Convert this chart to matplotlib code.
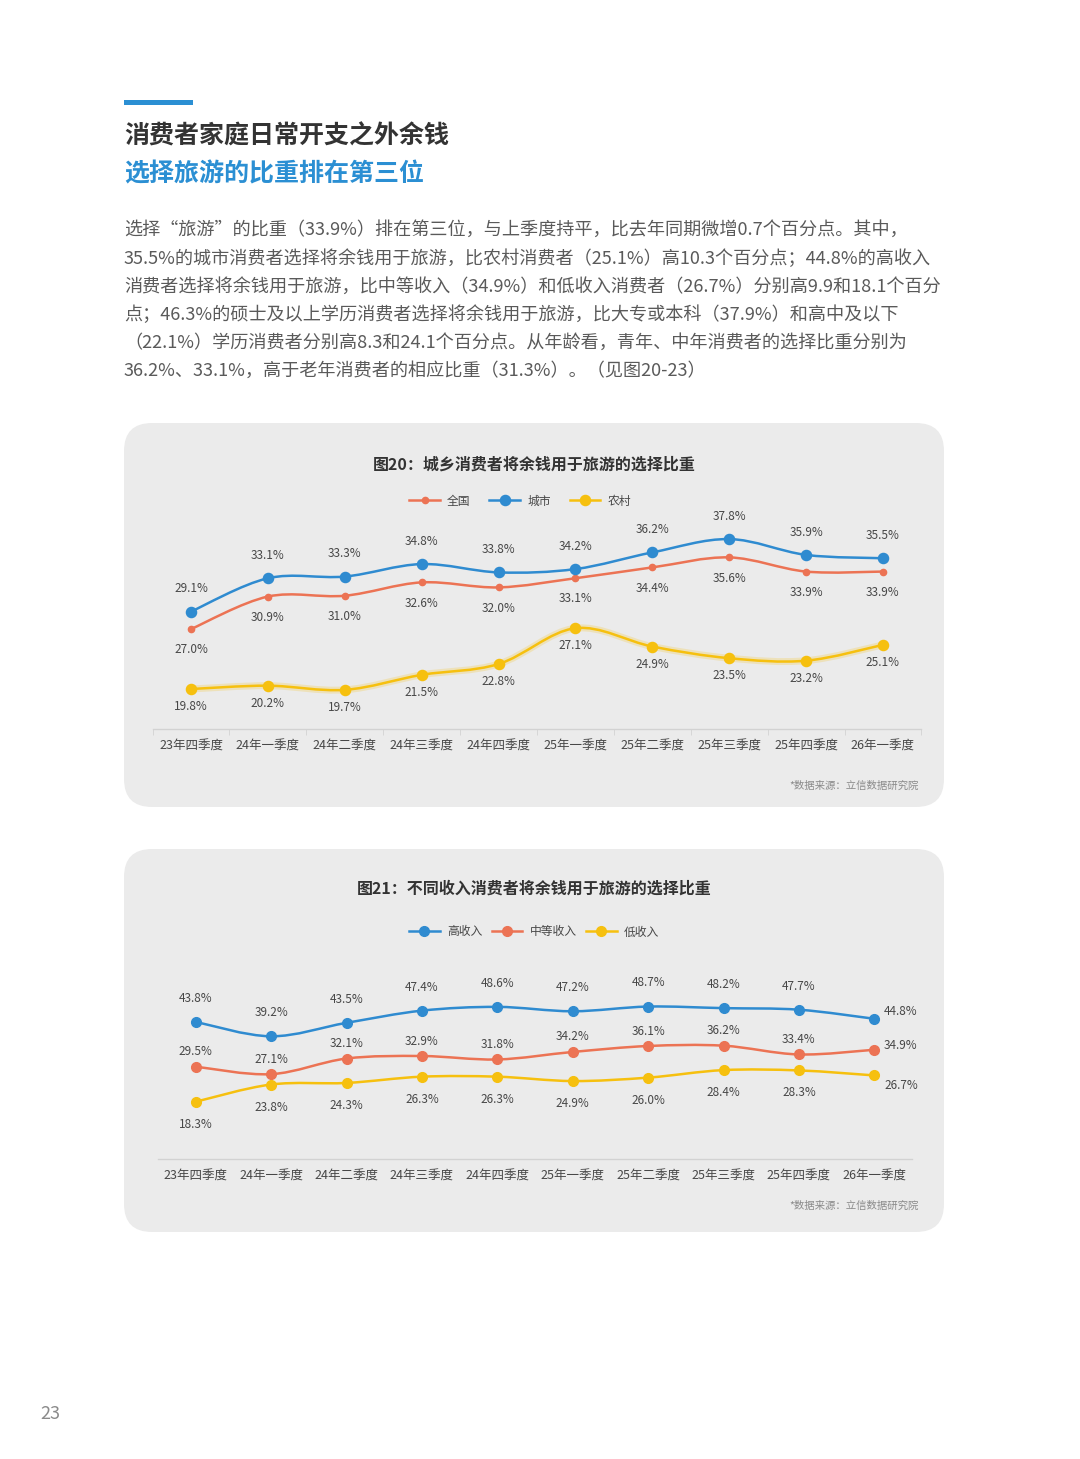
import matplotlib
matplotlib.use("Agg")
import matplotlib.pyplot as plt
from matplotlib.patches import FancyBboxPatch, PathPatch, Rectangle
from matplotlib.path import Path
from matplotlib.lines import Line2D

plt.rcParams['font.family'] = ['Noto Sans CJK SC', 'DejaVu Sans']

# --- data ---
quarters = ['23年四季度', '24年一季度', '24年二季度', '24年三季度', '24年四季度',
            '25年一季度', '25年二季度', '25年三季度', '25年四季度', '26年一季度']

national = [27.0, 30.9, 31.0, 32.6, 32.0, 33.1, 34.4, 35.6, 33.9, 33.9]
urban = [29.1, 33.1, 33.3, 34.8, 33.8, 34.2, 36.2, 37.8, 35.9, 35.5]
rural = [19.8, 20.2, 19.7, 21.5, 22.8, 27.1, 24.9, 23.5, 23.2, 25.1]

high_income = [43.8, 39.2, 43.5, 47.4, 48.6, 47.2, 48.7, 48.2, 47.7, 44.8]
mid_income = [29.5, 27.1, 32.1, 32.9, 31.8, 34.2, 36.1, 36.2, 33.4, 34.9]
low_income = [18.3, 23.8, 24.3, 26.3, 26.3, 24.9, 26.0, 28.4, 28.3, 26.7]

title1 = '消费者家庭日常开支之外余钱'
title2 = '选择旅游的比重排在第三位'
paragraph = [
    '选择“旅游”的比重（33.9%）排在第三位，与上季度持平，比去年同期微增0.7个百分点。其中，',
    '35.5%的城市消费者选择将余钱用于旅游，比农村消费者（25.1%）高10.3个百分点；44.8%的高收入',
    '消费者选择将余钱用于旅游，比中等收入（34.9%）和低收入消费者（26.7%）分别高9.9和18.1个百分',
    '点；46.3%的硕士及以上学历消费者选择将余钱用于旅游，比大专或本科（37.9%）和高中及以下',
    '（22.1%）学历消费者分别高8.3和24.1个百分点。从年龄看，青年、中年消费者的选择比重分别为',
    '36.2%、33.1%，高于老年消费者的相应比重（31.3%）。（见图20-23）',
]
source = '*数据来源：立信数据研究院'

BLUE = '#2F8BD0'
ORANGE = '#EC7354'
YELLOW = '#F6C00F'
PANEL = '#EBEBEB'
LABEL = '#474747'

W, H = 1080, 1459
fig = plt.figure(figsize=(W / 100, H / 100), dpi=100)
fig.patch.set_facecolor('white')


def fy(py):
    return 1 - py / H


def smooth_path(xs, ys):
    # Catmull-Rom through the points, as cubic Bezier segments
    n = len(xs)
    verts = [(xs[0], ys[0])]
    codes = [Path.MOVETO]
    for i in range(n - 1):
        a, b = max(i - 1, 0), min(i + 2, n - 1)
        c1 = (xs[i] + (xs[i + 1] - xs[a]) / 6, ys[i] + (ys[i + 1] - ys[a]) / 6)
        c2 = (xs[i + 1] - (xs[b] - xs[i]) / 6, ys[i + 1] - (ys[b] - ys[i]) / 6)
        verts += [c1, c2, (xs[i + 1], ys[i + 1])]
        codes += [Path.CURVE4] * 3
    return Path(verts, codes)


def draw_series(ax, values, color, ms, lw=1.8, glow=False):
    xs = list(range(len(values)))
    if glow:
        ax.add_patch(PathPatch(smooth_path(xs, values), fill=False, edgecolor=color,
                               lw=5, alpha=0.22, capstyle='round'))
    ax.add_patch(PathPatch(smooth_path(xs, values), fill=False, edgecolor=color,
                           lw=lw, capstyle='round'))
    ax.plot(xs, values, 'o', color=color, markersize=ms, linestyle='none', zorder=3,
            clip_on=False)


def label_series(ax, values, dy, last=None):
    for i, v in enumerate(values):
        if last is not None and i == len(values) - 1:
            ax.annotate(f'{v:.1f}%', (i, v), xytext=last, textcoords='offset points',
                        ha='left', va='center', fontsize=8.5, color=LABEL)
        else:
            ax.annotate(f'{v:.1f}%', (i, v), xytext=(0, dy), textcoords='offset points',
                        ha='center', va='center', fontsize=8.5, color=LABEL)


def panel(y0, y1):
    p = FancyBboxPatch((124 / 100, (H - y1) / 100), 820 / 100, (y1 - y0) / 100,
                       boxstyle='round,pad=0,rounding_size=0.28',
                       transform=fig.dpi_scale_trans, facecolor=PANEL,
                       edgecolor='none', zorder=-10)
    fig.patches.append(p)


def setup_axes(x0, x1, ybot, ppu, ylim, boundary_ticks):
    h = (ylim[1] - ylim[0]) * ppu
    ax = fig.add_axes([x0 / W, fy(ybot), (x1 - x0) / W, h / H])
    ax.set_zorder(1)
    ax.set_xlim(-0.5, len(quarters) - 0.5)
    ax.set_ylim(*ylim)
    for s in ['top', 'right', 'left']:
        ax.spines[s].set_visible(False)
    ax.spines['bottom'].set_color('#D2D2D2')
    ax.spines['bottom'].set_linewidth(1)
    ax.set_yticks([])
    ax.set_xticks(range(len(quarters)))
    ax.set_xticklabels(quarters, fontsize=9, color=LABEL)
    ax.tick_params(axis='x', length=0, pad=8)
    if boundary_ticks:
        ax.set_xticks([i - 0.5 for i in range(len(quarters) + 1)], minor=True)
        ax.tick_params(axis='x', which='minor', length=4, color='#D2D2D2')
    ax.patch.set_visible(False)
    return ax


# --- header ---
fig.patches.append(Rectangle((124 / W, fy(105)), 69 / W, 5 / H, transform=fig.transFigure,
                             facecolor='#2B8FD3', edgecolor='none'))
fig.text(124 / W, fy(136), title1, fontsize=18, fontweight='bold', color='#333333',
         ha='left', va='center')
fig.text(124 / W, fy(174), title2, fontsize=18, fontweight='bold', color='#2B8FD3',
         ha='left', va='center')
for k, line in enumerate(paragraph):
    fig.text(124 / W, fy(230 + k * 28.2), line, fontsize=13.05, color='#5A5A5A',
             ha='left', va='center')

# --- figure 20 ---
panel(423, 807)
fig.text(534 / W, fy(465), '图20：城乡消费者将余钱用于旅游的选择比重', fontsize=11.5,
         fontweight='bold', color='#333333', ha='center', va='center')
ax1 = setup_axes(152.6, 921.4, 729, 8.33, (15, 40), True)
draw_series(ax1, national, ORANGE, 4.5)
draw_series(ax1, urban, BLUE, 7.3)
draw_series(ax1, rural, YELLOW, 7.3, glow=True)
label_series(ax1, urban, 16.3)
label_series(ax1, national, -14.9)
label_series(ax1, rural, -12.8)
handles1 = [Line2D([], [], color=ORANGE, marker='o', markersize=4.5, lw=1.8),
            Line2D([], [], color=BLUE, marker='o', markersize=7.3, lw=1.8),
            Line2D([], [], color=YELLOW, marker='o', markersize=7.3, lw=1.8)]
fig.legend(handles1, ['全国', '城市', '农村'], loc='center', ncol=3,
           bbox_to_anchor=(520 / W, fy(501)), frameon=False, fontsize=8.5,
           handlelength=2.6, columnspacing=1.6, handletextpad=0.6,
           labelcolor=LABEL)
fig.text(919 / W, fy(786), source, fontsize=7.5, color='#8A8A8A', ha='right', va='center')

# --- figure 21 ---
panel(849, 1232)
fig.text(534 / W, fy(889), '图21：不同收入消费者将余钱用于旅游的选择比重', fontsize=11.5,
         fontweight='bold', color='#333333', ha='center', va='center')
ax2 = setup_axes(158, 912, 1159, 3.13, (0, 60), False)
draw_series(ax2, high_income, BLUE, 7.0)
draw_series(ax2, mid_income, ORANGE, 7.0)
draw_series(ax2, low_income, YELLOW, 7.0)
label_series(ax2, high_income, 17, last=(7, 5))
label_series(ax2, mid_income, 10.8, last=(7, 3))
label_series(ax2, low_income, -16.2, last=(7, -7))
handles2 = [Line2D([], [], color=BLUE, marker='o', markersize=7.0, lw=1.8),
            Line2D([], [], color=ORANGE, marker='o', markersize=7.0, lw=1.8),
            Line2D([], [], color=YELLOW, marker='o', markersize=7.0, lw=1.8)]
fig.legend(handles2, ['高收入', '中等收入', '低收入'], loc='center', ncol=3,
           bbox_to_anchor=(534 / W, fy(932)), frameon=False, fontsize=8.5,
           handlelength=2.6, columnspacing=0.8, handletextpad=0.6,
           labelcolor=LABEL)
fig.text(919 / W, fy(1206), source, fontsize=7.5, color='#8A8A8A', ha='right', va='center')

# page number
fig.text(40 / W, fy(1414), '23', fontsize=13, color='#8A8A8A', ha='left', va='center')

fig.savefig('out.png', dpi=100)
